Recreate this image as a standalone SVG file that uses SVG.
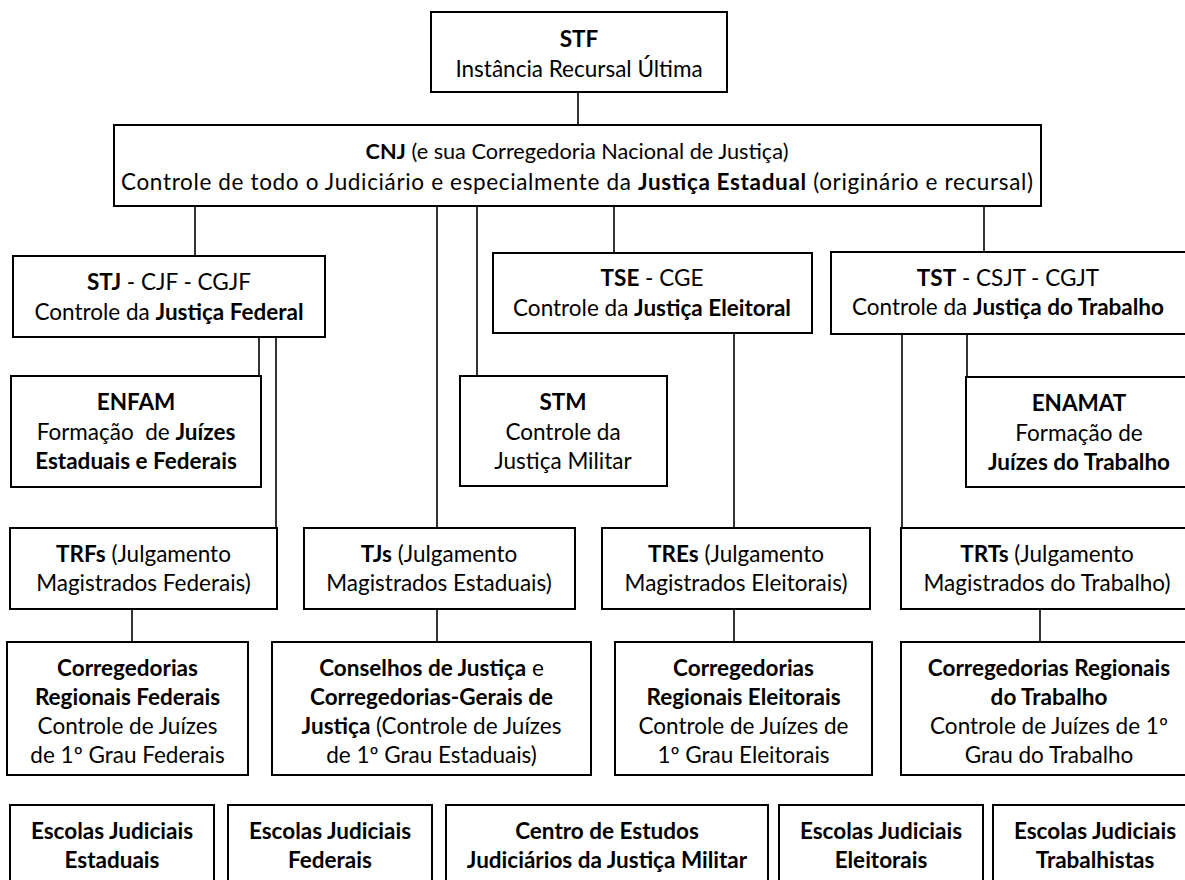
<svg xmlns="http://www.w3.org/2000/svg" width="1185" height="880" viewBox="0 0 1185 880">
<style>
.box{fill:#fff;stroke:#000;stroke-width:2}
.ln{stroke:#000;stroke-width:1.6;fill:none}
text{font-family:Lato,"Liberation Sans",sans-serif;font-size:22.5px;fill:#000;text-anchor:middle}
.b{font-weight:bold}
</style>
<rect width="1185" height="880" fill="#fff"/>
<g id="connectors">
<line class="ln" x1="578" y1="92" x2="578" y2="125"/>
<line class="ln" x1="195" y1="206" x2="195" y2="256"/>
<line class="ln" x1="437" y1="206" x2="437" y2="528"/>
<line class="ln" x1="477" y1="206" x2="477" y2="376"/>
<line class="ln" x1="614" y1="206" x2="614" y2="253"/>
<line class="ln" x1="984" y1="206" x2="984" y2="252"/>
<line class="ln" x1="259" y1="337" x2="259" y2="376"/>
<line class="ln" x1="276" y1="337" x2="276" y2="528"/>
<line class="ln" x1="734" y1="333" x2="734" y2="528"/>
<line class="ln" x1="902" y1="334" x2="902" y2="528"/>
<line class="ln" x1="967" y1="334" x2="967" y2="377"/>
<line class="ln" x1="132" y1="609" x2="132" y2="642"/>
<line class="ln" x1="437" y1="609" x2="437" y2="642"/>
<line class="ln" x1="734" y1="609" x2="734" y2="642"/>
<line class="ln" x1="1040" y1="609" x2="1040" y2="642"/>
</g>
<g id="stf"><rect class="box" x="431" y="12" width="296" height="80"/>
<text x="579" y="47" class="b">STF</text>
<text x="579" y="77">Instância Recursal Última</text></g>
<g id="cnj"><rect class="box" x="114" y="125" width="927" height="81"/>
<text x="577" y="159" style="font-size:21.7px"><tspan class="b">CNJ</tspan> (e sua Corregedoria Nacional de Justiça)</text>
<text x="577" y="190" textLength="912" lengthAdjust="spacing">Controle de todo o Judiciário e especialmente da <tspan class="b">Justiça Estadual</tspan> (originário e recursal)</text></g>
<g id="stj"><rect class="box" x="13" y="256" width="312" height="81"/>
<text x="169" y="290"><tspan class="b">STJ</tspan> - CJF - CGJF</text>
<text x="169" y="320">Controle da <tspan class="b">Justiça Federal</tspan></text></g>
<g id="tse"><rect class="box" x="493" y="253" width="319" height="80"/>
<text x="652" y="286"><tspan class="b">TSE</tspan> - CGE</text>
<text x="652" y="316">Controle da <tspan class="b">Justiça Eleitoral</tspan></text></g>
<g id="tst"><rect class="box" x="831" y="252" width="360" height="82"/>
<text x="1008" y="286"><tspan class="b">TST</tspan> - CSJT - CGJT</text>
<text x="1008" y="315">Controle da <tspan class="b">Justiça do Trabalho</tspan></text></g>
<g id="enfam"><rect class="box" x="11" y="376" width="250" height="111"/>
<text x="136" y="410" class="b">ENFAM</text>
<text x="136" y="440" xml:space="preserve">Formação  de <tspan class="b">Juízes</tspan></text>
<text x="136" y="469" class="b">Estaduais e Federais</text></g>
<g id="stm"><rect class="box" x="460" y="376" width="207" height="110"/>
<text x="563" y="410" class="b">STM</text>
<text x="563" y="440">Controle da</text>
<text x="563" y="469">Justiça Militar</text></g>
<g id="enamat"><rect class="box" x="966" y="377" width="226" height="110"/>
<text x="1079" y="411" class="b">ENAMAT</text>
<text x="1079" y="441">Formação de</text>
<text x="1079" y="470" class="b">Juízes do Trabalho</text></g>
<g id="trfs"><rect class="box" x="10" y="528" width="267" height="81"/>
<text x="143.5" y="562"><tspan class="b">TRFs</tspan> (Julgamento</text>
<text x="143.5" y="591">Magistrados Federais)</text></g>
<g id="tjs"><rect class="box" x="304" y="528" width="271" height="81"/>
<text x="439" y="562"><tspan class="b">TJs</tspan> (Julgamento</text>
<text x="439" y="591">Magistrados Estaduais)</text></g>
<g id="tres"><rect class="box" x="602" y="528" width="268" height="81"/>
<text x="736" y="562"><tspan class="b">TREs</tspan> (Julgamento</text>
<text x="736" y="591">Magistrados Eleitorais)</text></g>
<g id="trts"><rect class="box" x="901" y="528" width="292" height="81"/>
<text x="1047" y="562"><tspan class="b">TRTs</tspan> (Julgamento</text>
<text x="1047" y="591">Magistrados do Trabalho)</text></g>
<g id="corr-federais"><rect class="box" x="7" y="642" width="241" height="133"/>
<text x="127.5" y="676" class="b">Corregedorias</text>
<text x="127.5" y="705" class="b">Regionais Federais</text>
<text x="127.5" y="734">Controle de Juízes</text>
<text x="127.5" y="763">de 1º Grau Federais</text></g>
<g id="conselhos"><rect class="box" x="272" y="642" width="319" height="133"/>
<text x="431.5" y="676"><tspan class="b">Conselhos de Justiça</tspan> e</text>
<text x="431.5" y="705" class="b">Corregedorias-Gerais de</text>
<text x="431.5" y="734"><tspan class="b">Justiça</tspan> (Controle de Juízes</text>
<text x="431.5" y="763">de 1º Grau Estaduais)</text></g>
<g id="corr-eleitorais"><rect class="box" x="615" y="642" width="257" height="133"/>
<text x="743.5" y="676" class="b">Corregedorias</text>
<text x="743.5" y="705" class="b">Regionais Eleitorais</text>
<text x="743.5" y="734">Controle de Juízes de</text>
<text x="743.5" y="763">1º Grau Eleitorais</text></g>
<g id="corr-trabalho"><rect class="box" x="901" y="642" width="296" height="133"/>
<text x="1049" y="676" class="b">Corregedorias Regionais</text>
<text x="1049" y="705" class="b">do Trabalho</text>
<text x="1049" y="734">Controle de Juízes de 1º</text>
<text x="1049" y="763">Grau do Trabalho</text></g>
<g id="escolas-estaduais"><rect class="box" x="10" y="805" width="204" height="90"/>
<text x="112" y="839" class="b">Escolas Judiciais</text>
<text x="112" y="868" class="b">Estaduais</text></g>
<g id="escolas-federais"><rect class="box" x="228" y="805" width="204" height="90"/>
<text x="330" y="839" class="b">Escolas Judiciais</text>
<text x="330" y="868" class="b">Federais</text></g>
<g id="centro-militar"><rect class="box" x="446" y="805" width="322" height="90"/>
<text x="607" y="839" class="b">Centro de Estudos</text>
<text x="607" y="868" class="b">Judiciários da Justiça Militar</text></g>
<g id="escolas-eleitorais"><rect class="box" x="779" y="805" width="204" height="90"/>
<text x="881" y="839" class="b">Escolas Judiciais</text>
<text x="881" y="868" class="b">Eleitorais</text></g>
<g id="escolas-trabalhistas"><rect class="box" x="993" y="805" width="204" height="90"/>
<text x="1095" y="839" class="b">Escolas Judiciais</text>
<text x="1095" y="868" class="b">Trabalhistas</text></g>
</svg>
